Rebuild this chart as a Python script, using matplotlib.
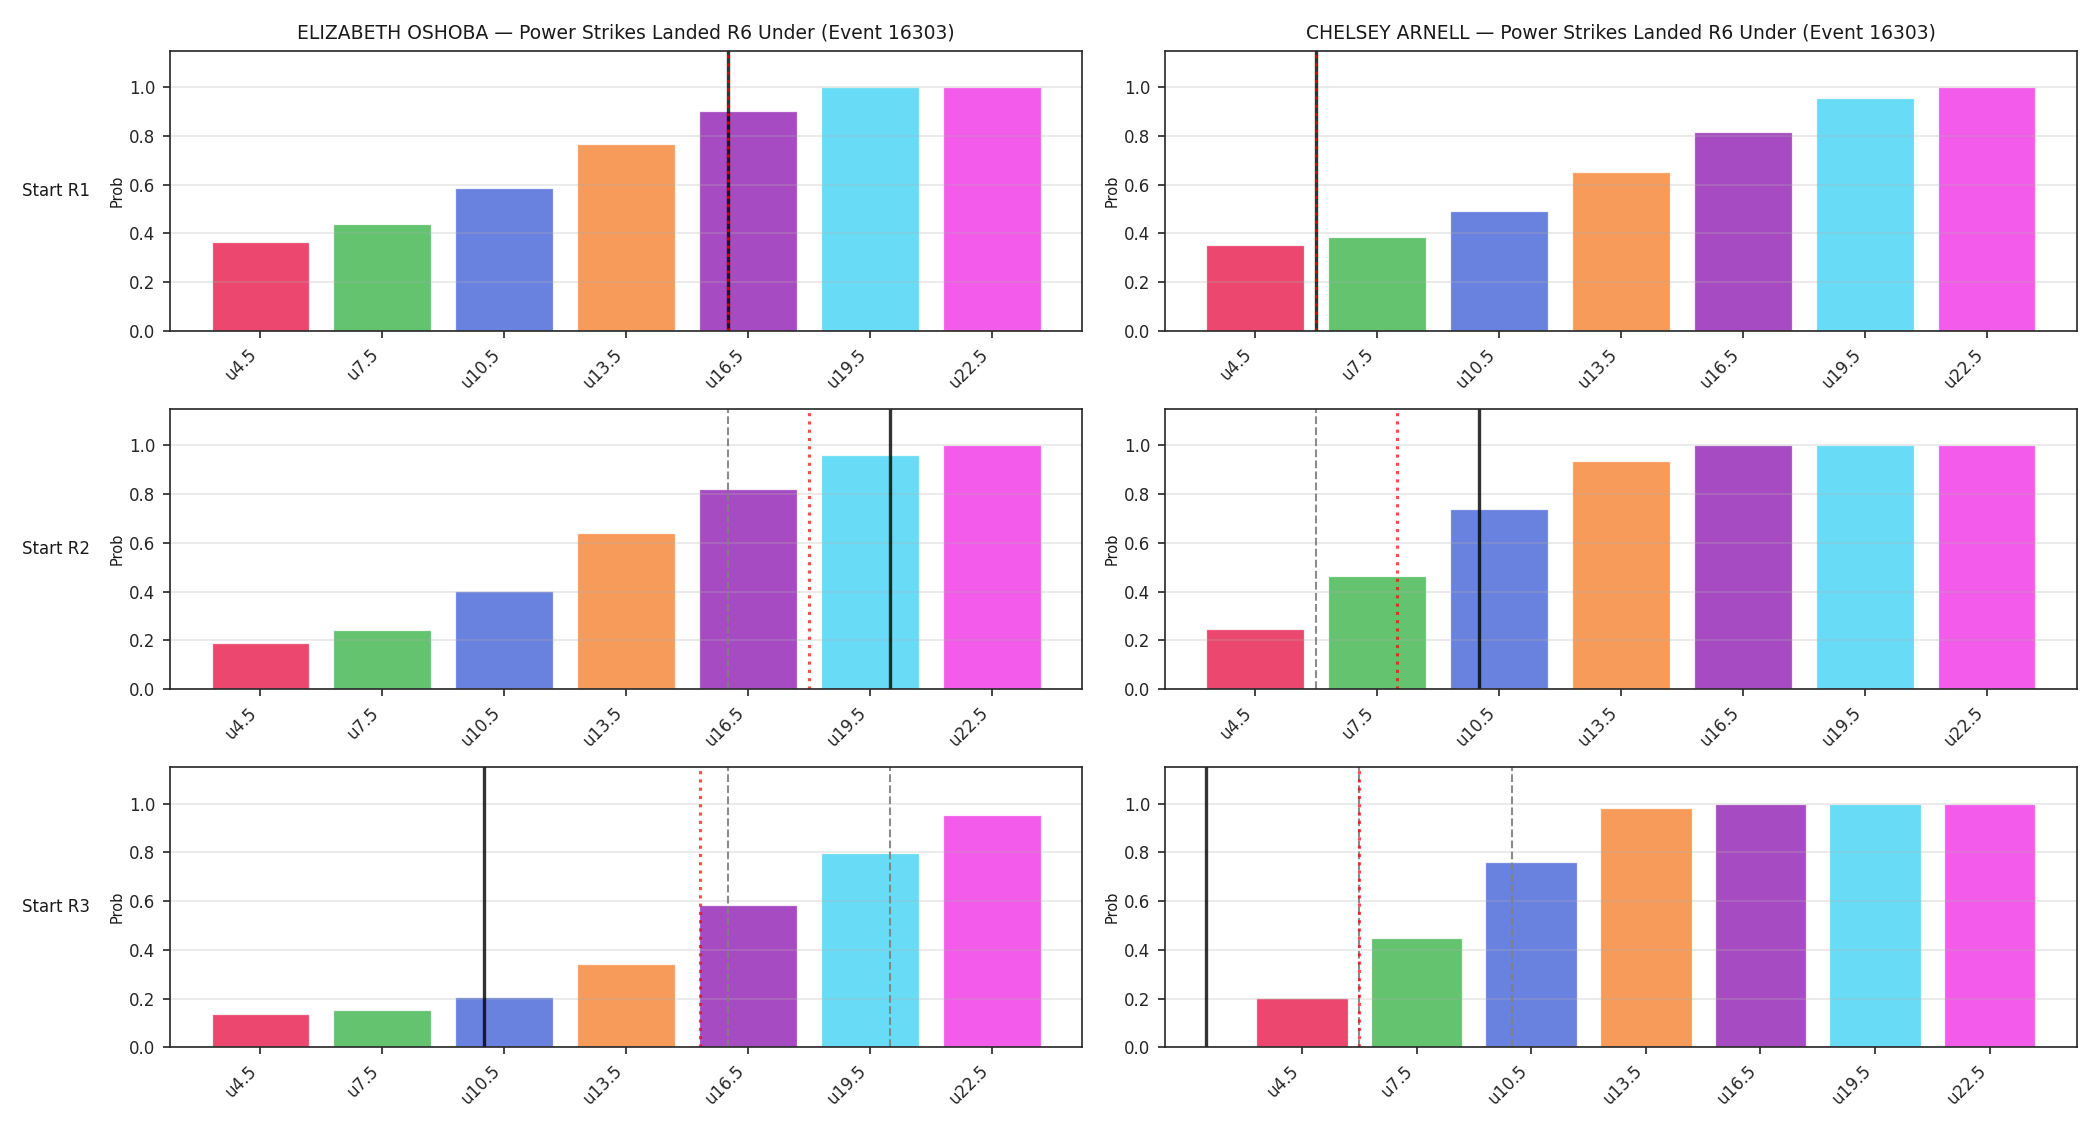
import matplotlib
matplotlib.use("Agg")
import matplotlib.pyplot as plt
import numpy as np

fighters = ["ELIZABETH OSHOBA", "CHELSEY ARNELL"]
title_suffix = " — Power Strikes Landed R6 Under (Event 16303)"
row_labels = ["Start R1", "Start R2", "Start R3"]
lines_k = [4.5, 7.5, 10.5, 13.5, 16.5, 19.5, 22.5]
tick_labels = ["u4.5", "u7.5", "u10.5", "u13.5", "u16.5", "u19.5", "u22.5"]

# probabilities [fighter][row]
oshoba_r1 = [0.364, 0.438, 0.586, 0.767, 0.903, 1.0, 1.0]
oshoba_r2 = [0.188, 0.243, 0.403, 0.642, 0.823, 0.959, 1.0]
oshoba_r3 = [0.138, 0.154, 0.208, 0.342, 0.583, 0.796, 0.953]
arnell_r1 = [0.354, 0.387, 0.492, 0.652, 0.818, 0.956, 1.0]
arnell_r2 = [0.248, 0.463, 0.739, 0.934, 1.0, 1.0, 1.0]
arnell_r3 = [0.203, 0.449, 0.760, 0.984, 1.0, 1.0, 1.0]

# reference lines: actual (black solid), projection (red dotted), previous rounds (grey dashed)
oshoba_actual = [16, 20, 10]
oshoba_proj = [16, 18, 15.33]
oshoba_prev = [[], [16], [16, 20]]
arnell_actual = [6, 10, 2]
arnell_proj = [6, 8, 6]
arnell_prev = [[], [6], [6, 10]]

colors = ["#e6194B", "#3cb44b", "#4363d8", "#f58231", "#911eb4", "#42d4f4", "#f032e6"]

data = [[oshoba_r1, oshoba_r2, oshoba_r3], [arnell_r1, arnell_r2, arnell_r3]]
actual = [oshoba_actual, arnell_actual]
proj = [oshoba_proj, arnell_proj]
prev = [oshoba_prev, arnell_prev]

plt.rcParams.update({
    "axes.edgecolor": "0.15",
    "xtick.color": "0.15",
    "ytick.color": "0.15",
    "text.color": "0.1",
    "axes.labelcolor": "0.1",
})

fig, axes = plt.subplots(3, 2, figsize=(14, 7.5), dpi=150)
fig.subplots_adjust(left=0.081, right=0.989, top=0.955, bottom=0.069, wspace=0.091, hspace=0.278)

for c in range(2):
    for r in range(3):
        ax = axes[r, c]
        ax.bar(lines_k, data[c][r], width=2.4, color=colors, alpha=0.8,
               edgecolor="white", linewidth=0.6)
        for p in prev[c][r]:
            ax.axvline(p, color="gray", linestyle="--", linewidth=1.0, alpha=0.9)
        ax.axvline(actual[c][r], color="black", linestyle="-", linewidth=1.6, alpha=0.8)
        ax.axvline(proj[c][r], color="red", linestyle=":", linewidth=1.5, alpha=0.7)
        ax.set_ylim(0, 1.15)
        ax.set_xticks(lines_k)
        ax.set_xticklabels(tick_labels, rotation=45, ha="right", fontsize=8)
        ax.tick_params(axis="y", labelsize=8)
        ax.set_ylabel("Prob", fontsize=7, labelpad=2)
        ax.grid(axis="y", alpha=0.3)
        if r == 0:
            ax.set_title(fighters[c] + title_suffix, fontsize=9)
        if c == 0:
            ax.text(-0.088, 0.5, row_labels[r], transform=ax.transAxes,
                    ha="right", va="center", fontsize=8)

fig.savefig("out.png", dpi=150)
